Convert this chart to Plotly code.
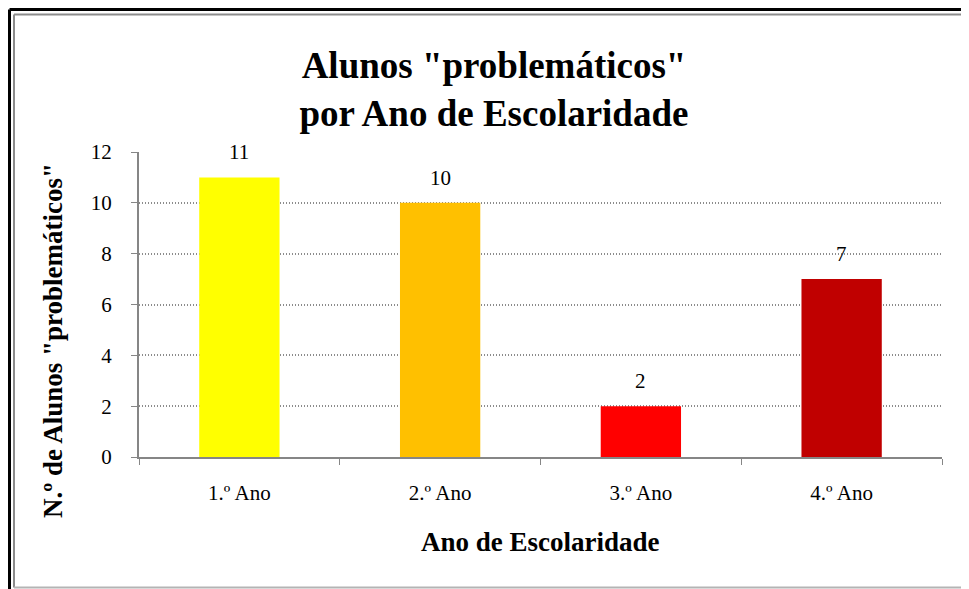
import plotly.graph_objects as go

anos = ["1.º Ano", "2.º Ano", "3.º Ano", "4.º Ano"]
alunos = [11, 10, 2, 7]
cores = ["#FFFF00", "#FFC000", "#FF0000", "#C00000"]

W, H = 969, 589
OFF = 8  # page body margin
L, R, T, B = 139 - OFF, 969 - 942 + OFF, 152 - OFF, 589 - 457 + OFF
serif = "Liberation Serif, Times New Roman, serif"


def px_x(p):
    # screen pixel -> paper x
    return (p - OFF - L) / (W - L - R)


def px_y(p):
    return (H - B - (p - OFF)) / (H - T - B)


fig = go.Figure()
fig.add_trace(go.Bar(x=anos, y=alunos, marker=dict(color=cores, line=dict(width=0))))

# value labels above the bars
for a, v in zip(anos, alunos):
    fig.add_annotation(x=a, y=v, text=str(v), showarrow=False, yanchor="bottom",
                       yshift=11, font=dict(family=serif, size=21, color="black"))

fig.add_annotation(text="<b>Ano de Escolaridade</b>", xref="paper", yref="paper",
                   x=0.5, y=px_y(542), showarrow=False, yanchor="middle",
                   font=dict(family=serif, size=27, color="black"))
fig.add_annotation(text="<b>N.º de Alunos \"problemáticos\"</b>", xref="paper", yref="paper",
                   x=px_x(53), y=px_y(341), showarrow=False, textangle=-90,
                   xanchor="center", yanchor="middle",
                   font=dict(family=serif, size=27, color="black"))

fig.update_layout(
    width=W, height=H,
    margin=dict(l=L, r=R, t=T, b=B),
    paper_bgcolor="white", plot_bgcolor="white",
    showlegend=False,
    bargap=0.6,
    font=dict(family=serif, size=21, color="black"),
    title=dict(text="<b>Alunos \"problemáticos\"<br>por Ano de Escolaridade</b>",
               x=px_x(494), xanchor="center", xref="paper",
               y=1 - (78 - OFF) / H, yanchor="middle",
               font=dict(family=serif, size=37, color="black")),
    xaxis=dict(showline=True, linecolor="#868686", linewidth=2,
               ticks="outside", tickson="boundaries", ticklen=6, tickcolor="#868686",
               tickfont=dict(size=21), ticklabelstandoff=16),
    yaxis=dict(range=[0, 12], dtick=2, showline=True, linecolor="#868686", linewidth=2,
               ticks="outside", ticklen=6, tickcolor="#868686",
               showgrid=True, gridcolor="#8c8c8c", griddash="1px,2px", gridwidth=1.5,
               zeroline=False, tickfont=dict(size=21), ticklabelstandoff=15),
)

# double frame around the chart area
frame = [
    dict(x0=9.5, x1=W + 20, y0=9.5, y1=9.5, color="black", w=3),
    dict(x0=9.5, x1=9.5, y0=9.5, y1=H + 20, color="black", w=3),
    dict(x0=14, x1=W + 20, y0=14.5, y1=14.5, color="#8c8c8c", w=2),
    dict(x0=14, x1=14, y0=14.5, y1=587.5, color="#8c8c8c", w=2),
    dict(x0=14, x1=W + 20, y0=587.5, y1=587.5, color="#b4b4b4", w=2),
]
for f in frame:
    fig.add_shape(type="line", xref="paper", yref="paper",
                  x0=px_x(f["x0"]), x1=px_x(f["x1"]), y0=px_y(f["y0"]), y1=px_y(f["y1"]),
                  line=dict(color=f["color"], width=f["w"]), layer="above")

fig.write_html("out.html")
